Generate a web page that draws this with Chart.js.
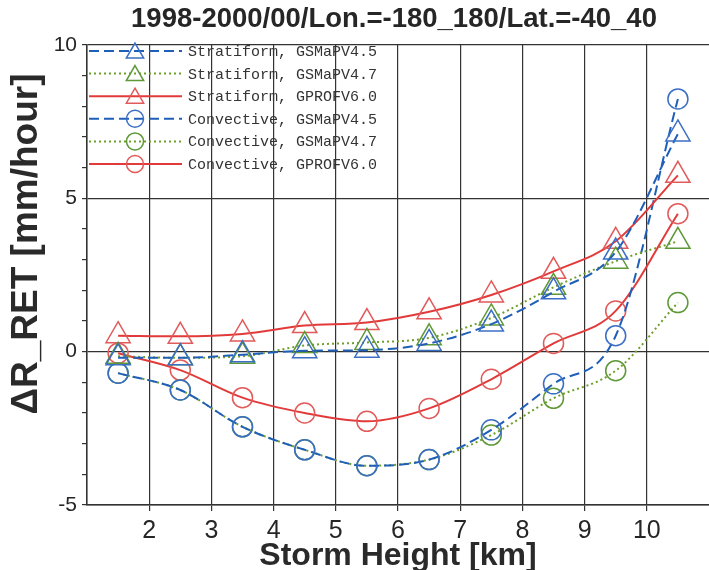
<!DOCTYPE html>
<html><head><meta charset="utf-8">
<script src="https://cdn.jsdelivr.net/npm/chart.js@4.4.0/dist/chart.umd.min.js"></script>
<style>html,body{margin:0;padding:0;background:#fff;overflow:hidden}#wrap{width:709px;height:570px}</style>
</head><body><div id="wrap"><canvas id="c" width="709" height="570"></canvas></div>
<script>
const stormHeight = [1.5, 2.5, 3.5, 4.5, 5.5, 6.5, 7.5, 8.5, 9.5, 10.5];
const stratGSMaP45 = [-0.2, -0.2, -0.1, 0.03, 0.05, 0.27, 0.9, 1.95, 3.25, 7.1];
const stratGSMaP47 = [-0.15, -0.2, -0.15, 0.2, 0.3, 0.45, 1.1, 2.1, 2.95, 3.6];
const stratGPROF60 = [0.52, 0.5, 0.58, 0.85, 0.95, 1.3, 1.85, 2.62, 3.6, 5.75];
const convGSMaP45 = [-0.7, -1.25, -2.45, -3.2, -3.72, -3.52, -2.55, -1.05, 0.52, 8.24];
const convGSMaP47 = [-0.7, -1.25, -2.45, -3.2, -3.72, -3.52, -2.72, -1.52, -0.62, 1.6];
const convGPROF60 = [-0.05, -0.6, -1.5, -2.0, -2.27, -1.85, -0.9, 0.27, 1.33, 4.5];
const seriesLabels = ['Stratiform, GSMaPV4.5','Stratiform, GSMaPV4.7','Stratiform, GPROFV6.0',
  'Convective, GSMaPV4.5','Convective, GSMaPV4.7','Convective, GPROFV6.0'];
const xTickLabels = [2, 3, 4, 5, 6, 7, 8, 9, 10];
const yTickLabels = [-5, 0, 5, 10];
const titleText = '1998-2000/00/Lon.=-180_180/Lat.=-40_40';
const xTitle = 'Storm Height [km]';
const yTitle = '\u0394R_RET [mm/hour]';

const BLUE = '#1f5fb8', GREEN = '#6e9f2a', RED = '#e23a3a';
const BLUE_M = '#3b6fc4', GREEN_M = '#5f9838', RED_M = '#e25a5a';
const pts = arr => arr.map((v, i) => ({x: stormHeight[i], y: v}));
function ds(label, data, color, mcolor, dash, style, r) {
  return {label, data: pts(data), borderColor: color, borderWidth: 2, borderDash: dash,
    pointStyle: style, pointRadius: r, pointHoverRadius: r, pointBorderColor: mcolor,
    pointBackgroundColor: 'rgba(0,0,0,0)', pointBorderWidth: 1.5, fill: false,
    cubicInterpolationMode: 'monotone', legendR: style === 'triangle' ? 10 : 8.5};
}
const datasets = [
  ds(seriesLabels[0], stratGSMaP45, BLUE, BLUE_M, [10, 5], 'triangle', 14),
  ds(seriesLabels[1], stratGSMaP47, GREEN, GREEN_M, [2, 3], 'triangle', 14),
  ds(seriesLabels[2], stratGPROF60, RED, RED_M, [], 'triangle', 14),
  ds(seriesLabels[3], convGSMaP45, BLUE, BLUE_M, [10, 5], 'circle', 10),
  ds(seriesLabels[4], convGSMaP47, GREEN, GREEN_M, [2, 3], 'circle', 10),
  ds(seriesLabels[5], convGPROF60, RED, RED_M, [], 'circle', 10)
];

// stretch the plot to the right edge of the picture and centre the title over it
const areaPlugin = {
  id: 'areaFix',
  afterLayout(chart) {
    const d = chart.width - chart.chartArea.right;
    if (d > 0) {
      chart.chartArea.right += d;
      chart.chartArea.width += d;
      const xs = chart.scales.x;
      xs.right += d; xs.width += d;
      xs.configure();
    }
    if (chart.titleBlock) { chart.titleBlock.left = 79; chart.titleBlock.right = chart.width; }
  }
};
const legendPlugin = {
  id: 'boxLegend',
  afterDatasetsDraw(chart) {
    const ctx = chart.ctx, a = chart.chartArea;
    ctx.save();
    chart.data.datasets.forEach((d, i) => {
      const y = a.top + 6 + i * 22.6;
      ctx.beginPath();
      ctx.setLineDash(d.borderDash);
      ctx.strokeStyle = d.borderColor;
      ctx.lineWidth = 2;
      ctx.moveTo(a.left + 2, y); ctx.lineTo(a.left + 95, y);
      ctx.stroke();
      ctx.setLineDash([]);
      ctx.strokeStyle = d.pointBorderColor;
      ctx.fillStyle = 'rgba(0,0,0,0)';
      ctx.lineWidth = 1.5;
      Chart.helpers.drawPoint(ctx, {pointStyle: d.pointStyle, radius: d.legendR, borderWidth: 1.5}, a.left + 48, y + (d.pointStyle === 'triangle' ? 2 : 0));
      ctx.fillStyle = '#333';
      ctx.font = '15px "Liberation Mono", monospace';
      ctx.textBaseline = 'middle';
      ctx.textAlign = 'left';
      ctx.fillText(d.label, a.left + 101, y + 1);
    });
    ctx.restore();
  }
};
const yTitlePlugin = {
  id: 'yTitle',
  afterDraw(chart) {
    const ctx = chart.ctx;
    ctx.save();
    ctx.translate(27, 244);
    ctx.rotate(-Math.PI / 2);
    ctx.font = 'bold 37px "Liberation Sans", Arial, sans-serif';
    ctx.fillStyle = '#2a2a2a';
    ctx.textAlign = 'center';
    ctx.textBaseline = 'middle';
    ctx.fillText(yTitle, 0, 0);
    ctx.restore();
  }
};

new Chart(document.getElementById('c'), {
  type: 'line',
  data: {datasets},
  plugins: [areaPlugin, legendPlugin, yTitlePlugin],
  options: {
    responsive: false, animation: false, devicePixelRatio: 1,
    layout: {padding: {left: 0, right: 0, top: 0, bottom: 0}},
    plugins: {
      legend: {display: false}, tooltip: {enabled: false},
      title: {display: true, text: titleText, color: '#262626',
        font: {family: '"Liberation Sans", Arial, sans-serif', size: 27.5, weight: 'bold', lineHeight: 1.2},
        padding: {top: 3, bottom: 9}}
    },
    scales: {
      x: {
        type: 'linear', min: 1, max: 11,
        afterFit: s => { s.height = 65; },
        ticks: {stepSize: 1, autoSkip: false, maxRotation: 0, padding: 5, color: '#262626',
          font: {family: '"Liberation Sans", Arial, sans-serif', size: 25},
          callback: v => xTickLabels.includes(v) ? String(v) : ''},
        grid: {drawTicks: true, tickLength: 6, lineWidth: 1.2,
          tickColor: c => (c.tick && xTickLabels.includes(c.tick.value)) ? '#333' : 'rgba(0,0,0,0)',
          color: c => (c.tick && c.tick.value === 11) ? 'rgba(0,0,0,0)' : '#333'},
        border: {display: true, color: '#333', width: 1.5},
        title: {display: true, text: xTitle, color: '#2a2a2a',
          font: {family: '"Liberation Sans", Arial, sans-serif', size: 32, weight: 'bold', lineHeight: 0.875},
          padding: {top: 0, bottom: 0}}
      },
      y: {
        type: 'linear', min: -5, max: 10,
        afterFit: s => { s.width = 87; },
        ticks: {stepSize: 1, autoSkip: false, padding: 5, color: '#262626',
          font: {family: '"Liberation Sans", Arial, sans-serif', size: 21},
          callback: v => yTickLabels.includes(v) ? String(v) : ''},
        grid: {drawTicks: true, tickLength: 5, lineWidth: 1.2, tickColor: '#333',
          color: c => (c.tick && c.tick.value % 5 === 0) ? '#333' : 'rgba(0,0,0,0)'},
        border: {display: true, color: '#333', width: 1.5}
      }
    }
  }
});
</script></body></html>
